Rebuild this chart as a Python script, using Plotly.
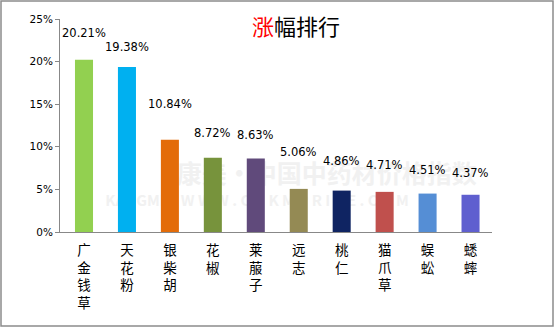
import plotly.graph_objects as go

# Top risers: herb names, percentage gains, bar colours
herbs = ["广金钱草", "天花粉", "银柴胡", "花椒", "莱菔子", "远志", "桃仁", "猫爪草", "蜈蚣", "蟋蟀"]
gains = [20.21, 19.38, 10.84, 8.72, 8.63, 5.06, 4.86, 4.71, 4.51, 4.37]
colors = ["#92D050", "#00B0F0", "#E36C09", "#77933C", "#604A7B",
          "#948A54", "#0F2462", "#C0504D", "#558ED5", "#5F5FCF"]
# pixel lift of each value label above its bar
label_lift = [27, 20, 36, 25, 23, 37, 30, 27, 24, 22]

y_ticks = [0, 5, 10, 15, 20, 25]
y_ticktext = [f"{t}%" for t in y_ticks]

vertical_names = ["<br>".join(list(h)) for h in herbs]

fig = go.Figure()

# faint watermark on the base axes, underneath the bars
fig.add_trace(go.Scatter(
    x=[0.27, 0.105], y=[0.26, 0.14],
    mode="text",
    text=["<b>康美·中国中药材价格指数</b>",
          "<b>KANGMEI  W W W . C N K M P R I C E . C O M</b>"],
    textfont=dict(family="Noto Sans CJK SC", size=[25, 15], color="#F1F1F1"),
    textposition="middle right",
    hoverinfo="skip", showlegend=False,
    xaxis="x", yaxis="y",
))

fig.add_trace(go.Bar(
    x=herbs, y=gains,
    marker=dict(color=colors, line=dict(width=0)),
    width=0.42,
    showlegend=False,
    xaxis="x2", yaxis="y2",
))

for h, g, lift in zip(herbs, gains, label_lift):
    fig.add_annotation(
        x=h, y=g, xref="x2", yref="y2",
        text=f"{g:.2f}%", showarrow=False,
        yanchor="middle", yshift=lift,
        font=dict(family="DejaVu Sans", size=11.5, color="#000000"),
    )

fig.update_layout(
    width=555, height=328,
    margin=dict(l=60, r=63, t=19, b=96),
    paper_bgcolor="white", plot_bgcolor="rgba(0,0,0,0)",
    title=dict(
        text="<span style='color:#FF0000'>涨</span>幅排行",
        x=296 / 555, xanchor="center", y=1 - 27 / 328, yanchor="middle",
        font=dict(family="Noto Sans CJK SC", size=22, color="#000000"),
    ),
    xaxis=dict(range=[0, 1], visible=False, fixedrange=True),
    yaxis=dict(range=[0, 1], visible=False, fixedrange=True),
    xaxis2=dict(
        overlaying="x", side="bottom",
        tickvals=herbs, ticktext=vertical_names,
        tickfont=dict(family="Noto Sans CJK SC", size=13.5, color="#000000"),
        showline=True, linecolor="#888888", linewidth=1,
        ticks="", showgrid=False, tickangle=0, ticklabelstandoff=6,
    ),
    yaxis2=dict(
        overlaying="y", side="left",
        range=[0, 25], tickvals=y_ticks, ticktext=y_ticktext,
        tickfont=dict(family="DejaVu Sans", size=10.5, color="#000000"),
        showline=True, linecolor="#888888", linewidth=1,
        ticks="outside", ticklen=4, tickcolor="#888888",
        showgrid=False, zeroline=False,
    ),
    shapes=[dict(
        type="rect", xref="paper", yref="paper",
        x0=-59 / 432, x1=1 + 61 / 432, y0=-94 / 213, y1=1 + 18 / 213,
        line=dict(color="#8C8C8C", width=1.5), fillcolor="rgba(0,0,0,0)",
    )],
)

fig.write_html("out.html")
